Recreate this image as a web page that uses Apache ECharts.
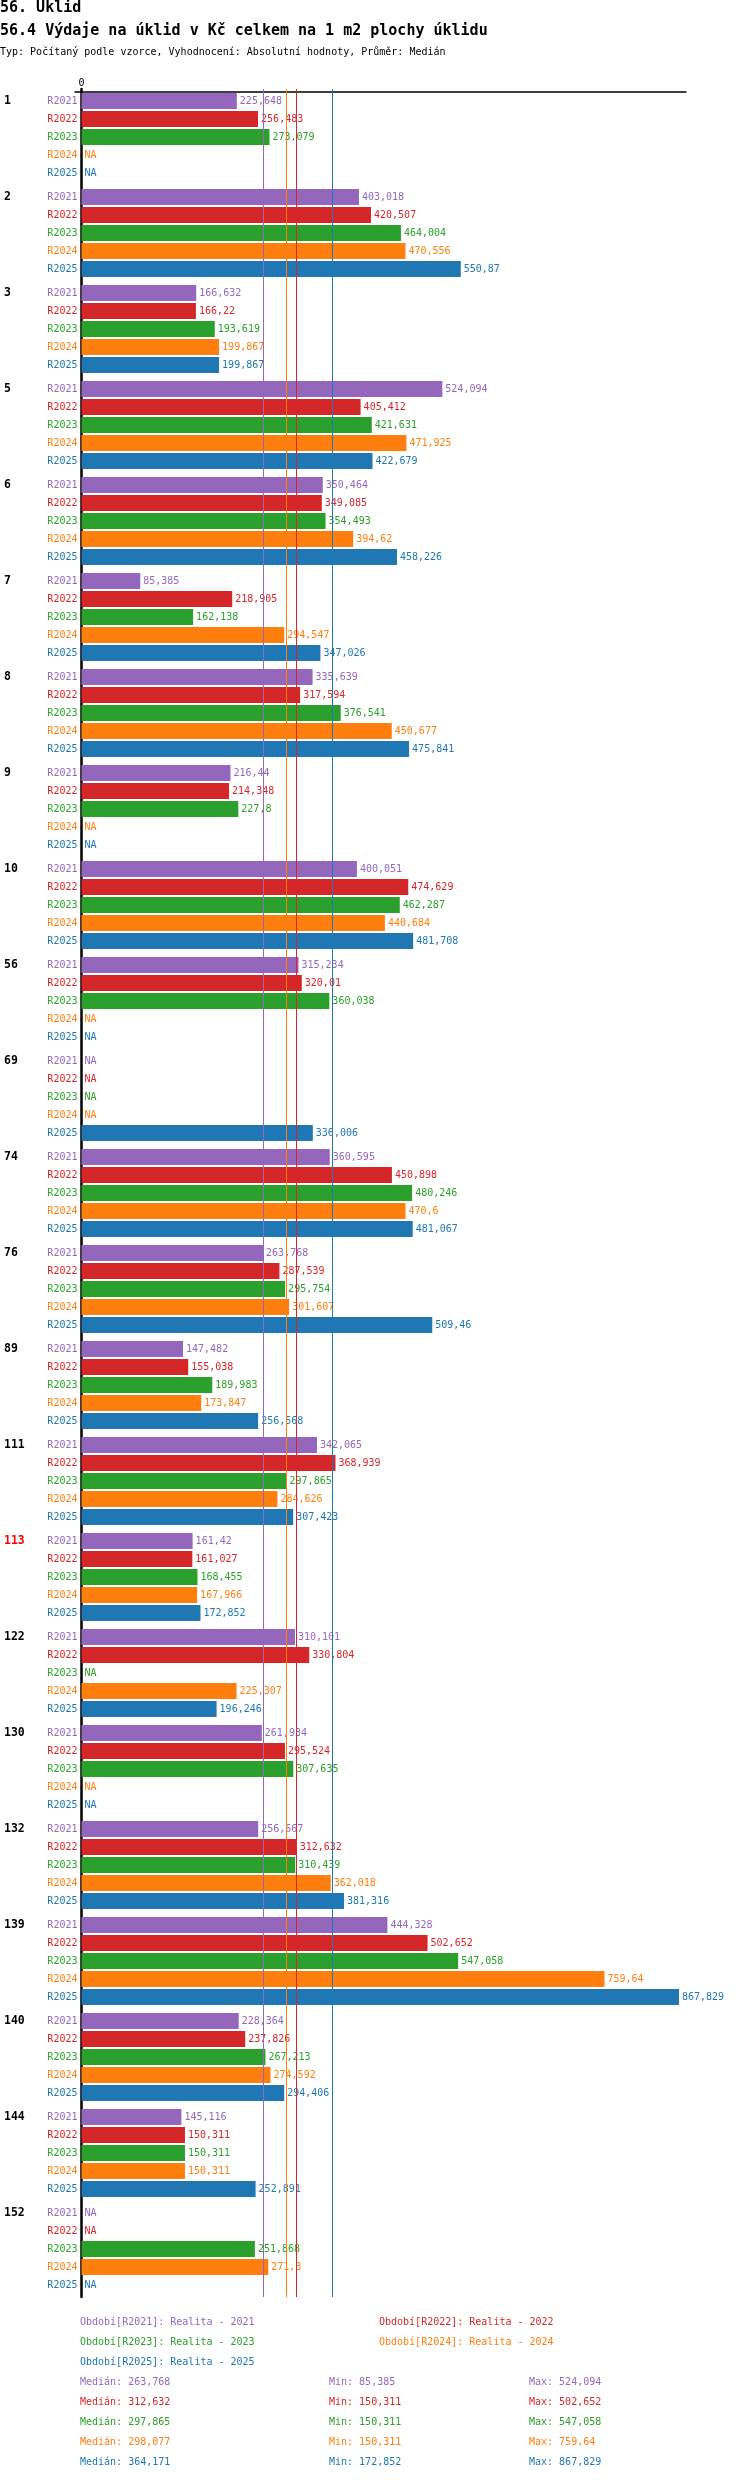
<!DOCTYPE html>
<html>
<head>
<meta charset="utf-8">
<script src="https://cdn.jsdelivr.net/npm/echarts@6.0.0/dist/echarts.min.js"></script>
<style>
  html, body { margin: 0; padding: 0; background: #fff; }
  #chart { width: 750px; height: 2480px; }
</style>
</head>
<body>
<div id="chart"></div>
<script>
const groups = ['1', '2', '3', '5', '6', '7', '8', '9', '10', '56', '69', '74', '76', '89', '111', '113', '122', '130', '132', '139', '140', '144', '152'];
const highlighted = ['113'];
const periods = ['R2021', 'R2022', 'R2023', 'R2024', 'R2025'];
const periodNames = ['Realita - 2021', 'Realita - 2022', 'Realita - 2023', 'Realita - 2024', 'Realita - 2025'];
const colors = ['#9467bd', '#d62728', '#2ca02c', '#ff7f0e', '#1f77b4'];

// null = NA
const r2021 = [225.648, 403.018, 166.632, 524.094, 350.464, 85.385, 335.639, 216.44, 400.051, 315.234, null, 360.595, 263.768, 147.482, 342.065, 161.42, 310.101, 261.934, 256.667, 444.328, 228.364, 145.116, null];
const r2022 = [256.483, 420.507, 166.22, 405.412, 349.085, 218.905, 317.594, 214.348, 474.629, 320.01, null, 450.898, 287.539, 155.038, 368.939, 161.027, 330.804, 295.524, 312.632, 502.652, 237.826, 150.311, null];
const r2023 = [273.079, 464.004, 193.619, 421.631, 354.493, 162.138, 376.541, 227.8, 462.287, 360.038, null, 480.246, 295.754, 189.983, 297.865, 168.455, null, 307.635, 310.439, 547.058, 267.213, 150.311, 251.868];
const r2024 = [null, 470.556, 199.867, 471.925, 394.62, 294.547, 450.677, null, 440.684, null, null, 470.6, 301.607, 173.847, 284.626, 167.966, 225.307, null, 362.018, 759.64, 274.592, 150.311, 271.3];
const r2025 = [null, 550.87, 199.867, 422.679, 458.226, 347.026, 475.841, null, 481.708, null, 336.006, 481.067, 509.46, 256.568, 307.423, 172.852, 196.246, null, 381.316, 867.829, 294.406, 252.891, null];
const values = [r2021, r2022, r2023, r2024, r2025];

const medians = [263.768, 312.632, 297.865, 298.077, 364.171];
const mins = [85.385, 150.311, 150.311, 150.311, 172.852];
const maxs = [524.094, 502.652, 547.058, 759.64, 867.829];

const FONT = 'DejaVu Sans Mono';
const fmt = (v) => String(v).replace('.', ',');

const barSeries = values.map((arr, i) => ({
  name: periods[i],
  type: 'bar',
  xAxisIndex: 0,
  yAxisIndex: 0,
  barWidth: 16,
  barGap: '12.5%',
  itemStyle: { color: colors[i] },
  label: {
    show: true,
    position: 'right',
    distance: 3,
    color: colors[i],
    fontFamily: FONT,
    fontSize: 10,
    backgroundColor: '#fff',
    padding: [1, 0, 0, 0],
    formatter: (p) => fmt(p.value)
  },
  data: arr.map((v) => v === null
    ? { value: 0, label: { formatter: 'NA' } }
    : v),
  markLine: {
    silent: true,
    symbol: 'none',
    label: { show: false },
    lineStyle: { color: colors[i], width: 1, type: 'solid' },
    data: [{ xAxis: medians[i] }]
  },
  z: 2
}));

// empty bars on a twin axis, only to hang the period names left of the axis
const nameSeries = periods.map((p, i) => ({
  name: p + '_label',
  type: 'bar',
  xAxisIndex: 0,
  yAxisIndex: 1,
  barWidth: 16,
  barGap: '12.5%',
  silent: true,
  itemStyle: { color: 'transparent' },
  label: {
    show: true,
    position: 'left',
    distance: 4,
    color: colors[i],
    fontFamily: FONT,
    fontSize: 10,
    formatter: p
  },
  data: groups.map(() => 0)
}));

const txt = (x, y, text, color, font) => ({
  type: 'text',
  x: x,
  y: y,
  style: { text: text, fill: color, font: font, align: 'left', verticalAlign: 'middle' }
});
const small = '10px "' + FONT + '"';
const big = 'bold 15px "' + FONT + '"';

const texts = [
  txt(0, 8, '56. Úklid', '#000', big),
  txt(0, 31, '56.4 Výdaje na úklid v Kč celkem na 1 m2 plochy úklidu', '#000', big),
  txt(0, 52, 'Typ: Počítaný podle vzorce, Vyhodnocení: Absolutní hodnoty, Průměr: Medián', '#000', small)
];
periods.forEach((p, i) => {
  texts.push(txt(i % 2 === 0 ? 80 : 379, 2322 + Math.floor(i / 2) * 20,
    'Období[' + p + ']: ' + periodNames[i], colors[i], small));
  const y = 2382 + i * 20;
  texts.push(txt(80, y, 'Medián: ' + fmt(medians[i]), colors[i], small));
  texts.push(txt(329, y, 'Min: ' + fmt(mins[i]), colors[i], small));
  texts.push(txt(529, y, 'Max: ' + fmt(maxs[i]), colors[i], small));
});

const chart = echarts.init(document.getElementById('chart'), null, { renderer: 'canvas' });
chart.setOption({
  animation: false,
  backgroundColor: '#fff',
  textStyle: { fontFamily: FONT },
  grid: { left: 75, right: 64, top: 89, height: 2208, containLabel: false },
  xAxis: {
    type: 'value',
    position: 'top',
    min: -9.4,
    max: 878,
    offset: -3,
    axisLine: { show: true, lineStyle: { color: '#000', width: 1.5 } },
    axisTick: { show: false },
    splitLine: { show: false },
    axisLabel: {
      customValues: [0],
      color: '#000',
      fontFamily: FONT,
      fontSize: 10,
      margin: 4
    }
  },
  yAxis: [
    {
      type: 'category',
      inverse: true,
      data: groups,
      axisLine: { show: true, onZero: true, lineStyle: { color: '#000', width: 2.5 } },
      axisTick: { show: false },
      axisLabel: {
        align: 'left',
        verticalAlign: 'bottom',
        margin: 71,
        lineHeight: 12,
        padding: [0, 0, 30, 0],
        fontFamily: FONT,
        fontSize: 11.5,
        fontWeight: 'bold',
        formatter: (v) => highlighted.includes(v) ? '{hl|' + v + '}' : '{n|' + v + '}',
        rich: {
          n: { color: '#000', fontFamily: FONT, fontSize: 11.5, fontWeight: 'bold', lineHeight: 12 },
          hl: { color: '#ff0000', fontFamily: FONT, fontSize: 11.5, fontWeight: 'bold', lineHeight: 12 }
        }
      }
    },
    {
      type: 'category',
      inverse: true,
      data: groups,
      show: false
    }
  ],
  graphic: texts,
  series: barSeries.concat(nameSeries)
});
</script>
</body>
</html>
